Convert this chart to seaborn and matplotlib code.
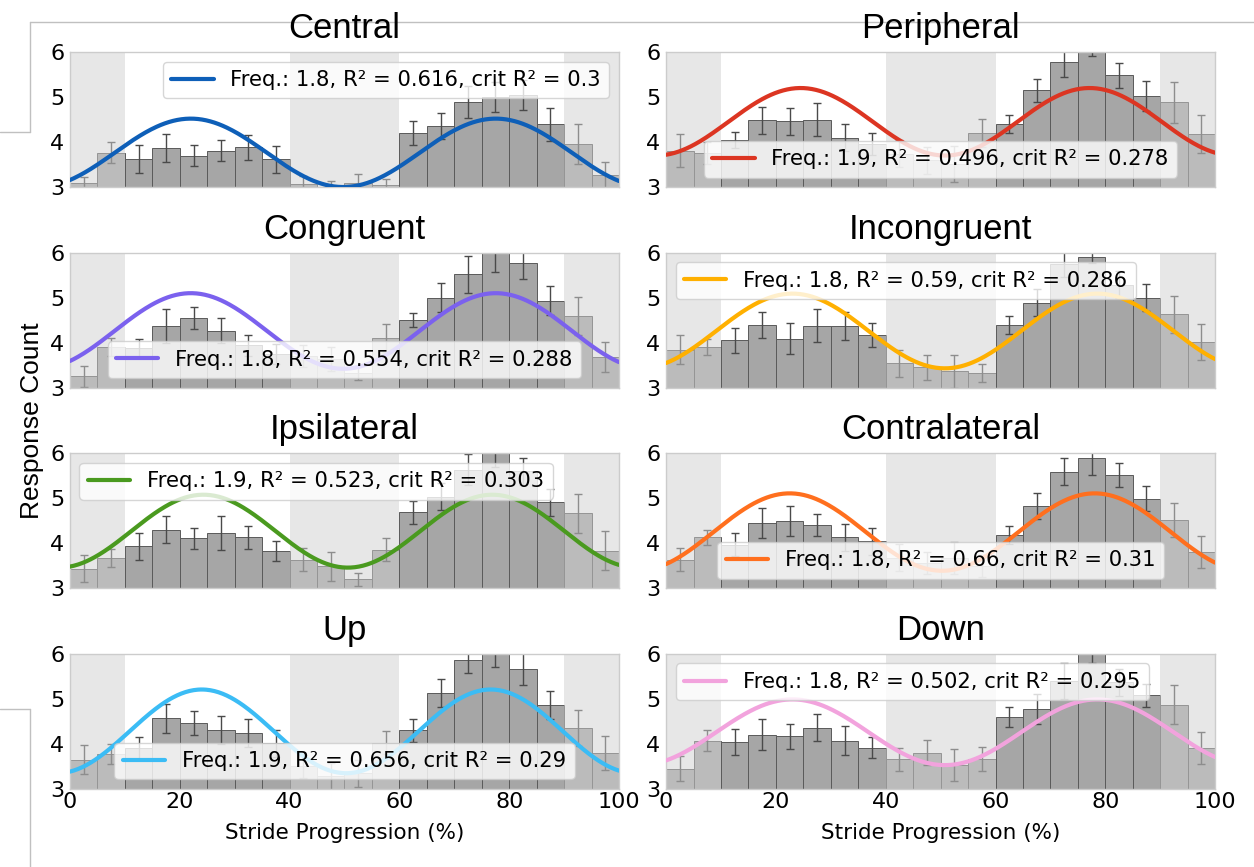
import numpy as np
import pandas as pd
import matplotlib
matplotlib.use("Agg")
import matplotlib.pyplot as plt
import seaborn as sns
from matplotlib.lines import Line2D

# ---------------- data ----------------
titles = ["Central", "Peripheral", "Congruent", "Incongruent",
          "Ipsilateral", "Contralateral", "Up", "Down"]
line_colors = ["#0e5fb8", "#dc3522", "#7b61ee", "#ffb000",
               "#4a9a1f", "#ff6f1e", "#3bbcf5", "#f2a3dd"]
freqs = [1.8, 1.9, 1.8, 1.8, 1.9, 1.8, 1.9, 1.8]
r2_vals = ["0.616", "0.496", "0.554", "0.59", "0.523", "0.66", "0.656", "0.502"]
crit_r2 = ["0.3", "0.278", "0.288", "0.286", "0.303", "0.31", "0.29", "0.295"]
# fitted sine parameters (offset, amplitude, position of first peak in %)
fit_offset = [3.76, 4.45, 4.26, 4.26, 4.27, 4.25, 4.28, 4.26]
fit_amp = [0.76, 0.75, 0.84, 0.83, 0.81, 0.86, 0.93, 0.73]
fit_peak = [22.0, 24.5, 22.0, 23.0, 24.3, 22.5, 24.0, 23.0]
legend_locs = ["upper right", "lower center", "lower center", "upper left",
               "upper left", "lower center", "lower center", "upper left"]

bin_edges = [0, 5, 10, 15, 20, 25, 30, 35, 40, 45, 50,
             55, 60, 65, 70, 75, 80, 85, 90, 95, 100]
bin_centers = [2.5, 7.5, 12.5, 17.5, 22.5, 27.5, 32.5, 37.5, 42.5, 47.5,
               52.5, 57.5, 62.5, 67.5, 72.5, 77.5, 82.5, 87.5, 92.5, 97.5]

central_vals = [3.10, 3.76, 3.63, 3.87, 3.70, 3.81, 3.88, 3.62, 3.06, 2.98,
                3.10, 3.04, 4.20, 4.36, 4.89, 5.00, 5.05, 4.39, 3.96, 3.26]
central_err = [0.12, 0.23, 0.31, 0.31, 0.23, 0.24, 0.28, 0.30, 0.18, 0.15,
               0.20, 0.13, 0.27, 0.29, 0.35, 0.34, 0.33, 0.37, 0.44, 0.30]
peripheral_vals = [3.81, 3.76, 4.04, 4.48, 4.46, 4.50, 4.10, 3.96, 3.74, 3.60,
                   3.52, 4.20, 4.41, 5.15, 5.78, 6.02, 5.48, 5.03, 4.88, 4.17]
peripheral_err = [0.37, 0.25, 0.18, 0.30, 0.30, 0.37, 0.30, 0.25, 0.30, 0.30,
                  0.40, 0.32, 0.20, 0.26, 0.33, 0.11, 0.27, 0.33, 0.46, 0.42]
congruent_vals = [3.25, 3.90, 3.88, 4.37, 4.55, 4.27, 3.94, 3.75, 3.70, 3.64,
                  3.32, 4.10, 4.50, 5.00, 5.52, 6.02, 5.78, 4.93, 4.60, 3.68]
congruent_err = [0.24, 0.20, 0.20, 0.38, 0.24, 0.27, 0.23, 0.22, 0.25, 0.27,
                 0.16, 0.31, 0.15, 0.32, 0.41, 0.45, 0.36, 0.32, 0.42, 0.34]
incongruent_vals = [3.84, 3.91, 4.05, 4.40, 4.09, 4.38, 4.37, 4.17, 3.54, 3.45,
                    3.36, 3.32, 4.40, 4.89, 5.75, 5.90, 5.29, 5.00, 4.63, 4.01]
incongruent_err = [0.32, 0.18, 0.27, 0.29, 0.35, 0.37, 0.32, 0.27, 0.30, 0.27,
                   0.36, 0.20, 0.20, 0.30, 0.30, 0.13, 0.30, 0.30, 0.41, 0.40]
ipsilateral_vals = [3.43, 3.68, 3.93, 4.30, 4.11, 4.23, 4.13, 3.83, 3.64, 3.49,
                    3.20, 3.86, 4.69, 5.03, 5.64, 6.05, 5.60, 4.91, 4.67, 3.84]
ipsilateral_err = [0.30, 0.20, 0.29, 0.30, 0.24, 0.37, 0.25, 0.22, 0.25, 0.32,
                   0.15, 0.26, 0.26, 0.30, 0.35, 0.35, 0.30, 0.30, 0.43, 0.43]
contralateral_vals = [3.64, 4.13, 3.97, 4.45, 4.50, 4.41, 4.14, 4.05, 3.68, 3.56,
                      3.67, 3.50, 4.19, 4.83, 5.59, 5.90, 5.52, 4.99, 4.52, 3.81]
contralateral_err = [0.25, 0.16, 0.25, 0.33, 0.33, 0.25, 0.30, 0.30, 0.30, 0.25,
                     0.35, 0.25, 0.20, 0.29, 0.30, 0.39, 0.26, 0.28, 0.38, 0.36]
up_vals = [3.65, 3.78, 3.91, 4.57, 4.47, 4.32, 4.24, 4.02, 3.50, 3.28,
           3.35, 4.03, 4.30, 5.13, 5.87, 6.00, 5.66, 4.87, 4.36, 3.80]
up_err = [0.32, 0.23, 0.25, 0.32, 0.26, 0.31, 0.31, 0.30, 0.25, 0.30,
          0.30, 0.25, 0.25, 0.31, 0.30, 0.30, 0.35, 0.31, 0.40, 0.37]
down_vals = [3.45, 4.07, 4.04, 4.21, 4.17, 4.36, 4.07, 3.92, 3.66, 3.81,
             3.53, 3.67, 4.60, 4.77, 5.39, 6.10, 5.37, 5.08, 4.87, 3.91]
down_err = [0.28, 0.23, 0.29, 0.34, 0.28, 0.30, 0.32, 0.23, 0.26, 0.27,
            0.35, 0.26, 0.23, 0.33, 0.40, 0.30, 0.30, 0.25, 0.43, 0.35]

all_vals = [central_vals, peripheral_vals, congruent_vals, incongruent_vals,
            ipsilateral_vals, contralateral_vals, up_vals, down_vals]
all_err = [central_err, peripheral_err, congruent_err, incongruent_err,
           ipsilateral_err, contralateral_err, up_err, down_err]

shaded_spans = [(0, 10), (40, 60), (90, 100)]
x_ticks = [0, 20, 40, 60, 80, 100]
y_ticks = [3, 4, 5, 6]

# ---------------- style ----------------
sns.set_theme(style="white")
plt.rcParams["font.family"] = ["DejaVu Sans"]
plt.rcParams["text.color"] = "black"
plt.rcParams["axes.labelcolor"] = "black"
plt.rcParams["xtick.color"] = "black"
plt.rcParams["ytick.color"] = "black"
plt.rcParams["axes.edgecolor"] = "#cccccc"
plt.rcParams["axes.linewidth"] = 1.0

fig, axes = plt.subplots(4, 2, figsize=(12.54, 8.67), dpi=100)
fig.subplots_adjust(left=0.0558, right=0.9690, bottom=0.090, top=0.940,
                    hspace=0.486, wspace=0.0858)

xs = np.linspace(0, 100, 400)

for i, ax in enumerate(axes.flat):
    df = pd.DataFrame({"x": bin_centers, "v": all_vals[i]})
    sns.histplot(data=df, x="x", weights="v", bins=bin_edges, ax=ax,
                 color="#a6a6a6", alpha=1.0, edgecolor="#5a5a5a",
                 linewidth=0.7, zorder=1)
    ax.errorbar(bin_centers, all_vals[i], yerr=all_err[i], fmt="none",
                ecolor="#4a4a4a", elinewidth=1.0, capsize=3, capthick=1.0,
                zorder=2)
    for a, b in shaded_spans:
        ax.axvspan(a, b, color="#d0d0d0", alpha=0.5, lw=0, zorder=2.5)
    fit = pd.DataFrame({
        "x": xs,
        "y": fit_offset[i] + fit_amp[i] * np.cos(2 * np.pi * freqs[i] * (xs - fit_peak[i]) / 100.0),
    })
    lbl = f"Freq.: {freqs[i]}, R\u00b2 = {r2_vals[i]}, crit R\u00b2 = {crit_r2[i]}"
    sns.lineplot(data=fit, x="x", y="y", ax=ax, color=line_colors[i],
                 linewidth=3, label=lbl, zorder=3)
    ax.set_xlim(0, 100)
    ax.set_ylim(3, 6)
    ax.set_yticks(y_ticks)
    ax.set_xticks(x_ticks)
    ax.tick_params(axis="both", length=0, labelsize=16, pad=4, colors="black")
    ax.tick_params(axis="x", pad=2)
    ax.set_ylabel("")
    ax.set_title(titles[i], fontsize=25, family=["Liberation Sans", "DejaVu Sans"],
                 pad=10, color="black")
    if i < 6:
        ax.set_xticklabels([])
        ax.set_xlabel("")
    else:
        ax.set_xlabel("Stride Progression (%)", fontsize=15.5, labelpad=8, color="black")
    for s in ax.spines.values():
        s.set_color("#cccccc")
        s.set_linewidth(1.0)
    leg = ax.legend(loc=legend_locs[i], fontsize=15.2, framealpha=0.8,
                    handlelength=2.0, borderaxespad=0.45)
    for t in leg.get_texts():
        t.set_color("black")
    leg.set_zorder(5)

fig.text(0.0255, 0.515, "Response Count", rotation=90, va="center", ha="center",
         fontsize=19, family=["Liberation Sans", "DejaVu Sans"], color="black")

# faint frame lines from the source screenshot
W, H = 1254.0, 867.0
def fline(x0, y0, x1, y1):
    fig.add_artist(Line2D([x0 / W, x1 / W], [1 - y0 / H, 1 - y1 / H],
                          transform=fig.transFigure, color="#c0c0c0", lw=1.0, zorder=0))
fline(30, 22, 1254, 22)
fline(30, 22, 30, 132)
fline(0, 132, 30, 132)
fline(0, 709, 30, 709)
fline(30, 709, 30, 867)

fig.savefig("out.png", dpi=100)
